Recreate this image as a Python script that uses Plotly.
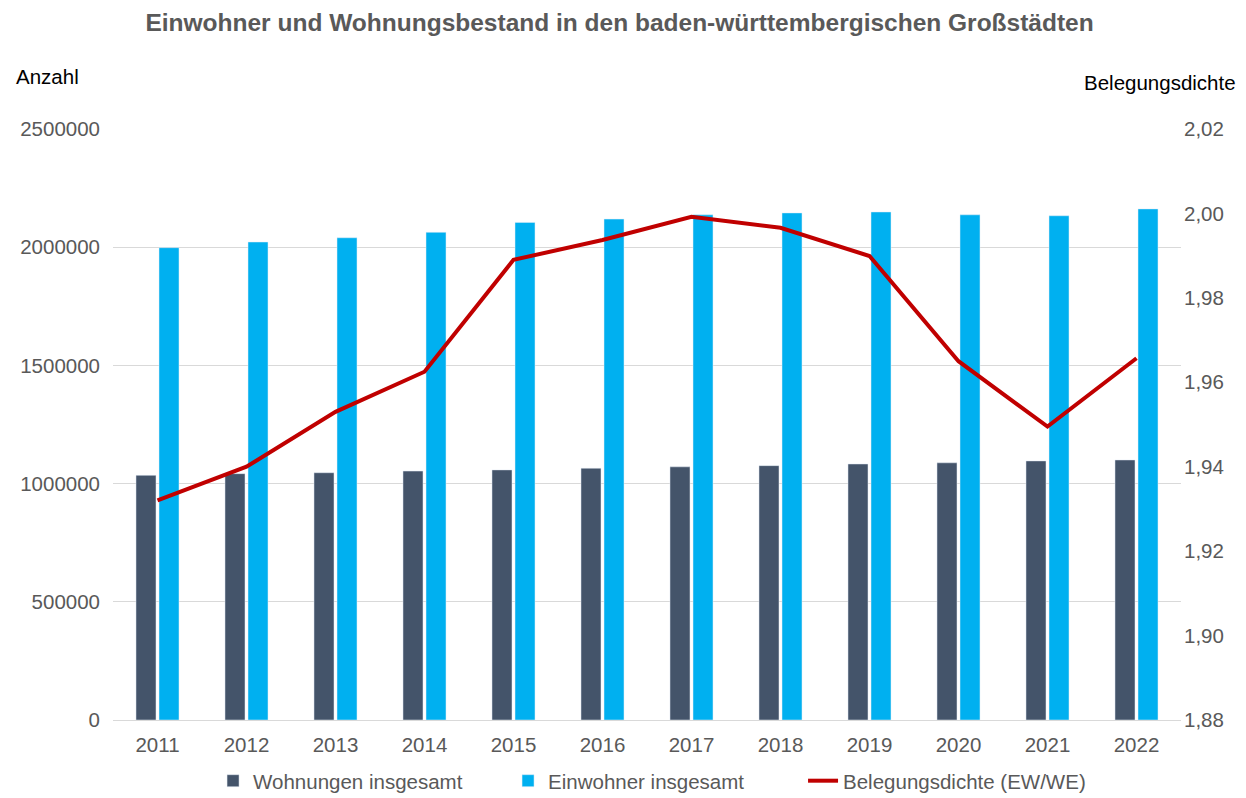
import plotly.graph_objects as go

years = ["2011", "2012", "2013", "2014", "2015", "2016", "2017", "2018", "2019", "2020", "2021", "2022"]
wohnungen = [1035000, 1042000, 1046000, 1053000, 1058000, 1065000, 1071000, 1076000, 1083000, 1088000, 1096000, 1100000]
einwohner = [1998000, 2022000, 2040000, 2063000, 2105000, 2119000, 2137000, 2145000, 2149000, 2137000, 2133000, 2162000]
dichte = [1.932, 1.940, 1.953, 1.9625, 1.989, 1.9937, 1.9992, 1.9966, 1.9899, 1.965, 1.9495, 1.9657]

left_ticks = [0, 500000, 1000000, 1500000, 2000000, 2500000]
right_ticks = [1.88, 1.90, 1.92, 1.94, 1.96, 1.98, 2.00, 2.02]

FONT = "Liberation Sans, Arial, sans-serif"
GRAY = "#595959"
FS = 20.5

fig = go.Figure()
fig.add_trace(go.Bar(x=years, y=wohnungen, name="Wohnungen insgesamt",
                     marker=dict(color="#44546a"), yaxis="y"))
fig.add_trace(go.Bar(x=years, y=einwohner, name="Einwohner insgesamt",
                     marker=dict(color="#00b0f0"), yaxis="y"))
fig.add_trace(go.Scatter(x=years, y=dichte, name="Belegungsdichte (EW/WE)",
                         mode="lines", line=dict(color="#c00000", width=4), yaxis="y2"))

# page has an 8px default body margin, so the figure is 8px smaller than the window
fig.update_layout(
    width=1238, height=790,
    margin=dict(l=105, r=65, t=121, b=78, autoexpand=False),
    paper_bgcolor="white", plot_bgcolor="white",
    separators=",.",
    barmode="group", bargap=0.483, bargroupgap=0.13,
    font=dict(family=FONT, size=FS, color=GRAY),
    title=dict(text="<b>Einwohner und Wohnungsbestand in den baden-württembergischen Großstädten</b>",
               x=0.494, xanchor="center", y=0.982, yanchor="middle",
               font=dict(family=FONT, size=24.5, color=GRAY)),
    xaxis=dict(type="category", showgrid=False, showline=True, linecolor="#d9d9d9", linewidth=1,
               ticks="", ticklabelstandoff=6, tickfont=dict(size=FS, color=GRAY)),
    yaxis=dict(range=[0, 2500000], tickvals=left_ticks, tickformat="d",
               showgrid=True, gridcolor="#d9d9d9", gridwidth=1, zeroline=False,
               ticks="", ticklabelstandoff=12, tickfont=dict(size=FS, color=GRAY)),
    yaxis2=dict(range=[1.88, 2.02], tickvals=right_ticks, tickformat=".2f",
                overlaying="y", side="right", showgrid=False, zeroline=False,
                ticks="", ticklabelstandoff=2, tickfont=dict(size=FS, color=GRAY)),
    legend=dict(orientation="h", x=0.508, xanchor="center", y=-0.103, yanchor="middle",
                bgcolor="rgba(0,0,0,0)",
                font=dict(size=FS, color=GRAY), itemwidth=30, traceorder="normal",
                entrywidth=250),
    annotations=[
        dict(text="Anzahl", xref="paper", yref="paper", x=-0.0927, y=1.088,
             xanchor="left", yanchor="middle", showarrow=False,
             font=dict(family=FONT, size=FS, color="black")),
        dict(text="Belegungsdichte", xref="paper", yref="paper", x=1.053, y=1.078,
             xanchor="right", yanchor="middle", showarrow=False,
             font=dict(family=FONT, size=FS, color="black")),
    ],
)

fig.write_html("out.html")
